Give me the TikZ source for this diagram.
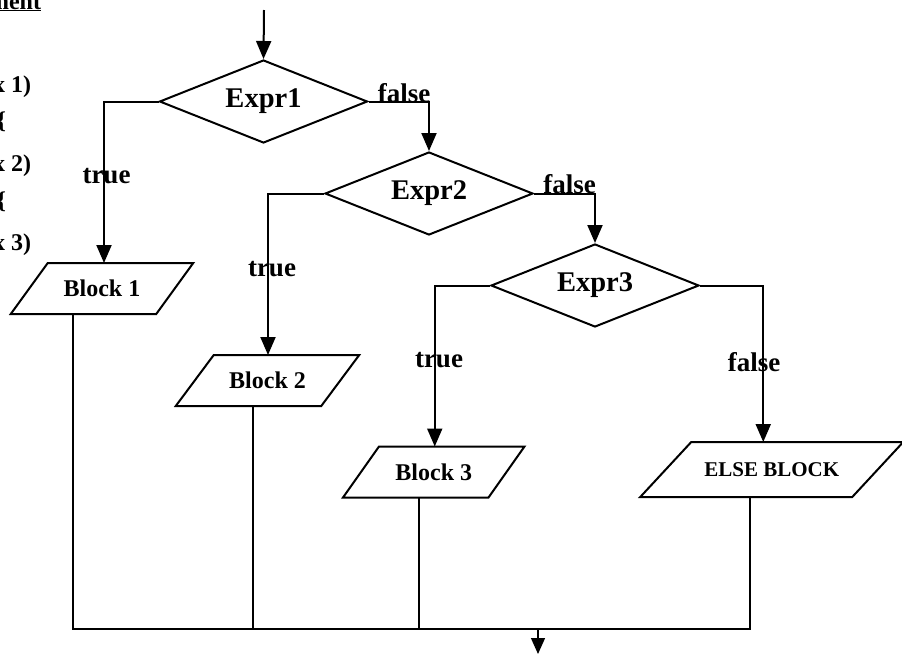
\documentclass[tikz,border=0pt]{standalone}
\usepackage{fontspec}
\setmainfont{Liberation Serif}
\usetikzlibrary{shapes.geometric,arrows.meta}
\begin{document}
\begin{tikzpicture}[x=1pt,y=-1pt,
  line width=2pt,
  dec/.style={diamond, draw, aspect=2.5, inner sep=0pt, minimum width=208pt, minimum height=83pt, font=\fontsize{28.5}{30}\selectfont\bfseries},
  blk/.style={rectangle, inner sep=0pt, minimum width=143.5pt, minimum height=49pt, font=\fontsize{24}{26}\selectfont\bfseries},
  lbl/.style={font=\fontsize{27}{29}\selectfont\bfseries, inner sep=0pt, anchor=base},
  code/.style={font=\fontsize{24}{26}\selectfont\bfseries, inner sep=0pt, anchor=base east},
  arr/.style={-{Triangle[width=15pt,length=18pt]}},
  thinarr/.style={line width=1.3pt,-{Triangle[width=14pt,length=16pt]}}
]
\useasboundingbox (0,0) rectangle (902,654);
\clip (0,0) rectangle (902,654);
\fill[white] (0,0) rectangle (902,654);

% cut-off code text at the left edge
\node[code] (c0) at (42,9) {\underline{Statement}};
\node[code] (c1) at (32,92) {x 1)};
\node[code] (c2) at (7,128) {\{};
\node[code] (c3) at (32,171) {x 2)};
\node[code] (c4) at (7,208) {\{};
\node[code] (c5) at (32,250) {x 3)};

% decisions
\node[dec] (e1) at (263.5,101.5) {Expr1};
\node[dec] (e2) at (429,193.5) {Expr2};
\node[dec] (e3) at (595,285.5) {Expr3};

% blocks (parallelograms drawn around named nodes)
\node[blk] (b1) at (102,288.5) {Block 1};
\node[blk] (b2) at (267.5,380.5) {Block 2};
\node[blk] (b3) at (433.75,472) {Block 3};
\node[blk, minimum width=210pt, minimum height=53pt, font=\fontsize{21}{23}\selectfont\bfseries] (eb) at (771.75,469.5) {ELSE BLOCK};
\foreach \n/\s in {b1/18.5, b2/19, b3/18, eb/25.5}{
  \draw[line join=miter] ([xshift=\s pt]\n.north west) -- ([xshift=\s pt]\n.north east)
     -- ([xshift=-\s pt]\n.south east) -- ([xshift=-\s pt]\n.south west) -- cycle;
}

% entry
\coordinate (start) at (264,10);
\draw[arr] (start) -- (e1.north);

% branches
\draw[arr] (e1.east) -| (e2.north);
\draw[arr] (e2.east) -| (e3.north);
\draw[arr] (e1.west) -| ([xshift=2pt]b1.north);
\draw[arr] (e2.west) -| ([xshift=0.5pt]b2.north);
\draw[arr] (e3.west) -| ([xshift=1pt]b3.north);
\draw[arr] (e3.east) -| ([xshift=-8.5pt]eb.north);

% labels
\node[lbl] (t1) at (106.5,183) {true};
\node[lbl] (t2) at (272,276) {true};
\node[lbl] (t3) at (439,367) {true};
\node[lbl] (f1) at (404,102) {false};
\node[lbl] (f2) at (569.5,193) {false};
\node[lbl] (f3) at (754,371) {false};

% merge
\coordinate (m1) at (73,629);
\coordinate (m2) at (253,629);
\coordinate (m3) at (419,629);
\coordinate (m4) at (750,629);
\coordinate (out) at (538,654);
\draw[line cap=rect] (b1.south -| m1) -- (m1) -- (m4) -- (eb.south -| m4);
\draw (b2.south -| m2) -- (m2);
\draw (b3.south -| m3) -- (m3);
\draw[thinarr] (out |- m1) -- (out);
\end{tikzpicture}
\end{document}
